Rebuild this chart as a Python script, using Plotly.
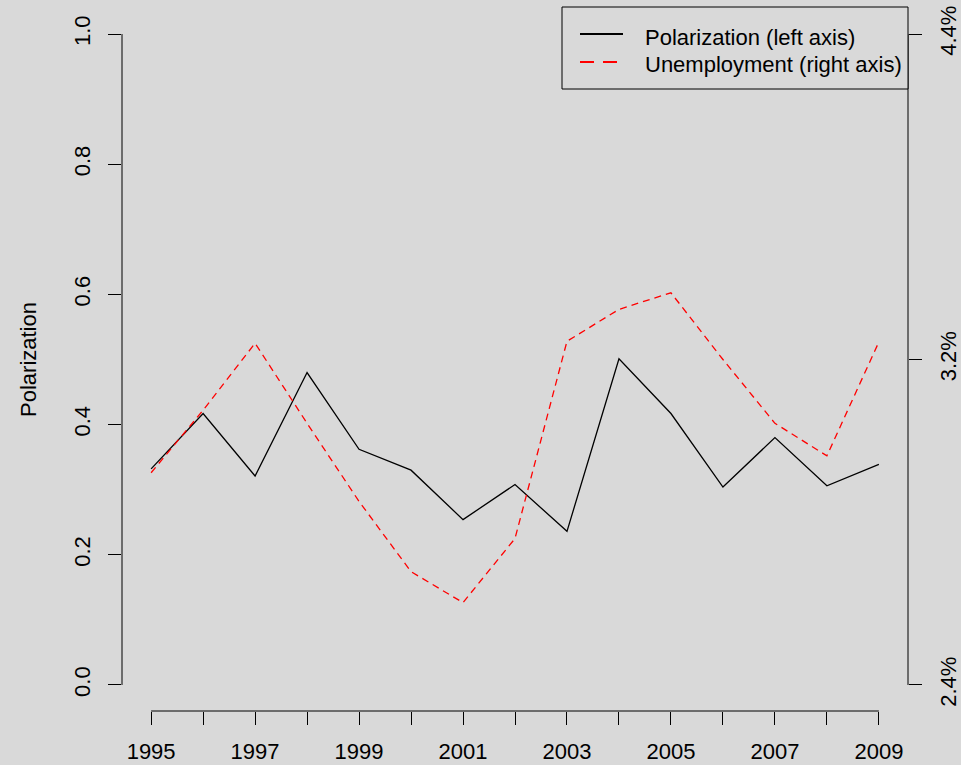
import plotly.graph_objects as go

# ---- data ----
years = [1995, 1996, 1997, 1998, 1999, 2000, 2001, 2002, 2003, 2004, 2005, 2006, 2007, 2008, 2009]
polarization = [0.332, 0.417, 0.321, 0.480, 0.362, 0.330, 0.254, 0.308, 0.236, 0.501, 0.417, 0.304, 0.380, 0.306, 0.339]
unemployment = [3.052, 3.244, 3.450, 3.204, 2.964, 2.748, 2.653, 2.850, 3.456, 3.554, 3.605, 3.400, 3.204, 3.104, 3.454]

x_tick_labels = ["1995", "", "1997", "", "1999", "", "2001", "", "2003", "", "2005", "", "2007", "", "2009"]
left_tick_vals = [0.0, 0.2, 0.4, 0.6, 0.8, 1.0]
left_tick_labels = ["0.0", "0.2", "0.4", "0.6", "0.8", "1.0"]
right_tick_vals = [2.4, 3.4, 4.4]
right_tick_labels = ["2.4%", "3.2%", "4.4%"]

series_names = ["Polarization (left axis)", "Unemployment (right axis)"]

# ---- layout constants ----
W, H = 961, 765
M = dict(l=122, r=53, t=8, b=54)
XRANGE = [1994.44, 2009.56]
YRANGE = [-0.04, 1.04]
Y2RANGE = [2.32, 4.48]
BG = "#d9d9d9"
FONT = "Liberation Sans, Arial, Helvetica, sans-serif"
FS = 22


def xp(v):
    return (v - XRANGE[0]) / (XRANGE[1] - XRANGE[0])


def yp(v):
    return (v - YRANGE[0]) / (YRANGE[1] - YRANGE[0])


def y2p(v):
    return (v - Y2RANGE[0]) / (Y2RANGE[1] - Y2RANGE[0])


def px_x(p):
    return (p - M["l"]) / (W - M["l"] - M["r"])


def px_y(p):
    return (H - M["b"] - p) / (H - M["t"] - M["b"])


fig = go.Figure()
fig.add_trace(go.Scatter(x=years, y=polarization, mode="lines", name=series_names[0],
                         line=dict(color="black", width=1.3), showlegend=False))
fig.add_trace(go.Scatter(x=years, y=unemployment, mode="lines", name=series_names[1], yaxis="y2",
                         line=dict(color="#ff0000", width=1.3, dash="7px,5px"), showlegend=False))

axis_common = dict(showgrid=False, zeroline=False, showline=False, ticks="outside",
                   ticklen=13, tickwidth=1, tickcolor="black", automargin=False,
                   tickfont=dict(family=FONT, size=FS, color="black"))

fig.update_layout(
    width=W, height=H, margin=dict(M, autoexpand=False),
    paper_bgcolor=BG, plot_bgcolor=BG,
    font=dict(family=FONT, size=FS, color="black"),
    showlegend=False,
    xaxis=dict(range=XRANGE, tickmode="array", tickvals=years, ticktext=x_tick_labels,
               ticklabelstandoff=8, **axis_common),
    yaxis=dict(range=YRANGE, tickmode="array", tickvals=left_tick_vals, ticktext=left_tick_labels,
               tickangle=-90, ticklabelstandoff=9,
               title=dict(text="Polarization", standoff=27, font=dict(family=FONT, size=FS, color="black")),
               **axis_common),
    yaxis2=dict(range=Y2RANGE, overlaying="y", side="right", tickmode="array",
                tickvals=right_tick_vals, ticktext=right_tick_labels, tickangle=-90,
                ticklabelstandoff=8, **axis_common),
)

# R-style axis lines that span only from the first to the last tick
line_style = dict(color="black", width=1)
shapes = [
    dict(type="line", xref="paper", yref="paper", x0=xp(years[0]), x1=xp(years[-1]), y0=0, y1=0, line=line_style),
    dict(type="line", xref="paper", yref="paper", x0=0, x1=0, y0=yp(left_tick_vals[0]), y1=yp(left_tick_vals[-1]), line=line_style),
    dict(type="line", xref="paper", yref="paper", x0=1, x1=1, y0=y2p(right_tick_vals[0]), y1=y2p(right_tick_vals[-1]), line=line_style),
    # legend box
    dict(type="rect", xref="paper", yref="paper", x0=px_x(562), x1=px_x(908), y0=px_y(89), y1=px_y(7),
         line=dict(color="black", width=1), fillcolor=BG),
    # legend keys
    dict(type="line", xref="paper", yref="paper", x0=px_x(580), x1=px_x(623), y0=px_y(34), y1=px_y(34),
         line=dict(color="black", width=2.2)),
    dict(type="line", xref="paper", yref="paper", x0=px_x(580), x1=px_x(623), y0=px_y(62), y1=px_y(62),
         line=dict(color="#ff0000", width=2.2, dash="14px,9px")),
]
fig.update_layout(shapes=shapes)

annotations = [
    dict(xref="paper", yref="paper", x=px_x(643), y=px_y(37), text=series_names[0], showarrow=False,
         xanchor="left", yanchor="middle", font=dict(family=FONT, size=FS, color="black")),
    dict(xref="paper", yref="paper", x=px_x(643), y=px_y(65), text=series_names[1], showarrow=False,
         xanchor="left", yanchor="middle", font=dict(family=FONT, size=FS, color="black")),
]
fig.update_layout(annotations=annotations)

fig.write_html("out.html", config={"displayModeBar": False},
               post_script="document.body.style.margin='0';document.body.style.background='%s';" % BG)
